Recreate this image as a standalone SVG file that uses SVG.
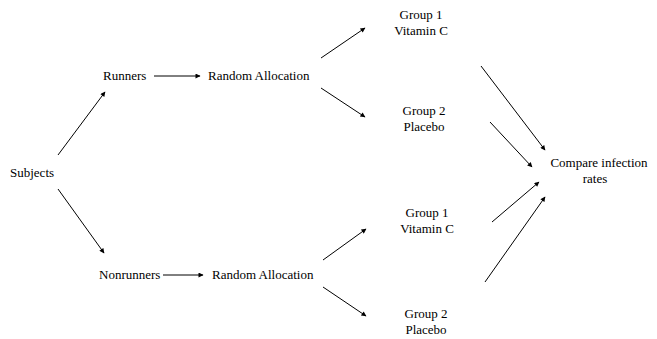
<svg xmlns="http://www.w3.org/2000/svg" width="657" height="339" viewBox="0 0 657 339">
<defs>
<marker id="ah" viewBox="0 0 10 10" refX="9" refY="5" markerWidth="7" markerHeight="5" markerUnits="userSpaceOnUse" orient="auto">
<path d="M0,0 L10,5 L0,10 Z" fill="#000"/>
</marker>
</defs>
<style>
text{font-family:"Liberation Serif","Times New Roman",serif;font-size:13px;fill:#000}
.c{text-anchor:middle}
.e line{stroke:#000;stroke-width:1;marker-end:url(#ah)}
</style>
<rect width="657" height="339" fill="#fff"/>
<g class="e" id="connectors">
<line x1="58" y1="155" x2="105" y2="92"/>
<line x1="58" y1="189" x2="104" y2="253"/>
<line x1="154" y1="76" x2="200" y2="76"/>
<line x1="163" y1="275" x2="203" y2="275"/>
<line x1="321" y1="58" x2="365" y2="28"/>
<line x1="321" y1="88" x2="365" y2="117"/>
<line x1="323" y1="260" x2="366" y2="229"/>
<line x1="323" y1="287" x2="366" y2="316"/>
<line x1="481" y1="66" x2="545" y2="150"/>
<line x1="490" y1="122" x2="532" y2="167"/>
<line x1="492" y1="222" x2="539" y2="182"/>
<line x1="485" y1="282" x2="545" y2="197"/>
</g>
<g id="subjects"><text x="10" y="177">Subjects</text></g>
<g id="runners"><text x="103" y="80">Runners</text></g>
<g id="random1"><text x="208" y="80">Random Allocation</text></g>
<g id="nonrunners"><text x="99" y="279">Nonrunners</text></g>
<g id="random2"><text x="212" y="279">Random Allocation</text></g>
<g id="g1a"><text class="c" x="421" y="19">Group 1</text><text class="c" x="421" y="35">Vitamin C</text></g>
<g id="g2a"><text class="c" x="424" y="115">Group 2</text><text class="c" x="424" y="131">Placebo</text></g>
<g id="g1b"><text class="c" x="427" y="217">Group 1</text><text class="c" x="427" y="233">Vitamin C</text></g>
<g id="g2b"><text class="c" x="426" y="318">Group 2</text><text class="c" x="426" y="334">Placebo</text></g>
<g id="compare"><text class="c" x="599" y="167">Compare infection</text><text class="c" x="595" y="183">rates</text></g>
</svg>
